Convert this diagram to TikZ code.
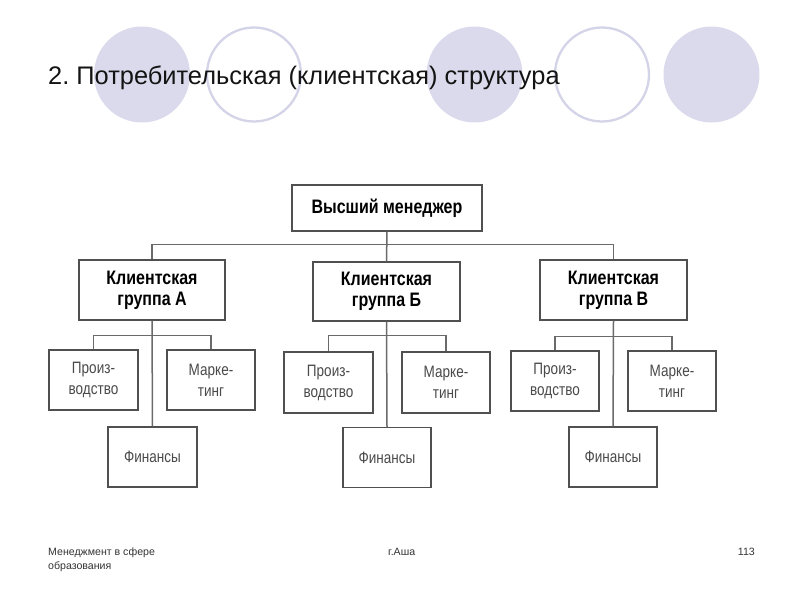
\documentclass[tikz,border=0pt]{standalone}
\usepackage{fontspec}
\setmainfont{Liberation Sans}
\newfontfamily\condfont[FakeStretch=0.82]{Liberation Sans}
\frenchspacing
\definecolor{lav}{HTML}{DADAEC}
\definecolor{lavline}{HTML}{D4D4E8}
\definecolor{boxline}{HTML}{505050}
\definecolor{conline}{HTML}{6A6A6A}
\definecolor{subtext}{HTML}{4A4A4A}
\tikzset{
  headbox/.style={draw=boxline, line width=1.3pt, fill=white, align=center, inner sep=0pt,
    font=\condfont\bfseries\fontsize{19.5}{21}\selectfont},
  subbox/.style={draw=boxline, line width=1.2pt, fill=white, align=center, inner sep=0pt,
    minimum width=88pt, minimum height=60pt, text=subtext,
    font=\condfont\fontsize{16.5}{21}\selectfont},
  conn/.style={draw=conline, line width=1.5pt},
  fulldisc/.style={fill=lav, draw=none},
  ringdisc/.style={draw=lavline, line width=2.3pt, fill=white},
  foot/.style={font=\fontsize{10.6}{13.5}\selectfont, text=black!80, inner sep=0pt, anchor=north west, align=left}
}
\begin{document}
\begin{tikzpicture}[x=1pt,y=-1pt]
\useasboundingbox (0,0) rectangle (800,600);
% decorative circles
\fill[fulldisc] (142,74.5) circle (48);
\draw[ringdisc] (254,74.5) circle (47);
\fill[fulldisc] (474.5,74.5) circle (48);
\draw[ringdisc] (602,74.5) circle (47);
\fill[fulldisc] (711.5,74.5) circle (48);
% title
\node[anchor=base west, inner sep=0pt, font=\fontsize{25.4}{28}\selectfont, text=black!92] (title) at (48,84) {2. Потребительская (клиентская) структура};
% top
\node[headbox, minimum width=190pt, minimum height=46pt] (top) at (387,208) {Высший менеджер};
% groups
\node[headbox, minimum width=146pt, minimum height=60pt] (gA) at (152,290) {Клиентская\\группа А};
\node[headbox, minimum width=147pt, minimum height=59pt] (gB) at (386.5,291.5) {Клиентская\\группа Б};
\node[headbox, minimum width=147pt, minimum height=60pt] (gC) at (613.5,290) {Клиентская\\группа В};
% sub boxes A
\node[subbox, minimum width=89pt] (pA) at (93.5,380) {Произ-\\водство};
\node[subbox] (mA) at (211,380) {Марке-\\тинг};
\node[subbox, minimum width=89pt] (fA) at (152.5,457) {Финансы};
% sub boxes B
\node[subbox, minimum width=89pt, minimum height=61pt] (pB) at (328.5,382.5) {Произ-\\водство};
\node[subbox, minimum height=61pt] (mB) at (446,382.5) {Марке-\\тинг};
\node[subbox] (fB) at (387,457.5) {Финансы};
% sub boxes C
\node[subbox] (pC) at (555,381) {Произ-\\водство};
\node[subbox] (mC) at (672,381) {Марке-\\тинг};
\node[subbox] (fC) at (613,457) {Финансы};
% connectors
\draw[conn] (top.south) -- (gB.north);
\draw[conn] (gA.north) -- ++(0,-15) -| (gC.north);
\draw[conn] (gA.south) -- (fA.north);
\draw[conn] (pA.north) -- ++(0,-14) -| (mA.north);
\draw[conn] (gB.south) -- (fB.north);
\draw[conn] (pB.north) -- ++(0,-16) -| (mB.north);
\draw[conn] (gC.south) -- (fC.north);
\draw[conn] (pC.north) -- ++(0,-14) -| (mC.north);
% footer
\node[foot] (f1) at (48,548) {Менеджмент в сфере\\образования};
\node[foot] (f2) at (388,548) {г.Аша};
\node[foot, anchor=north east] (f3) at (755,548) {113};
\end{tikzpicture}
\end{document}
